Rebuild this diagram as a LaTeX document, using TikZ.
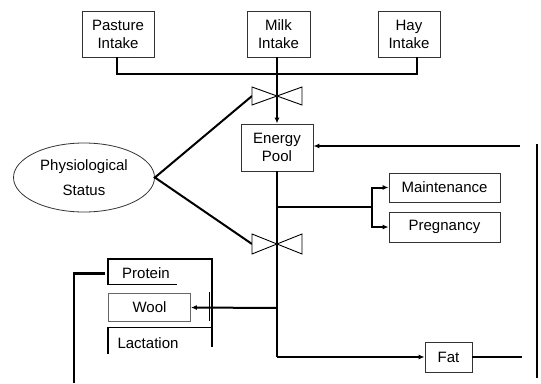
\documentclass[tikz,border=0pt]{standalone}
\usepackage{fontspec}
\setmainfont{Liberation Sans}
\usetikzlibrary{arrows.meta,shapes.geometric}
\begin{document}
\begin{tikzpicture}[x=1pt,y=-1pt,
  every node/.style={font=\fontsize{15}{18}\selectfont, inner sep=0pt},
  box/.style={draw=black!80, line width=0.8pt, align=center},
  conn/.style={line width=2pt},
  thin conn/.style={line width=1.4pt},
  tip/.style={-{Latex[length=6pt,width=5pt]}},
  valveshape/.style={draw, line width=0.9pt, fill=white}
]
\useasboundingbox (0,0) rectangle (541,383);

% boxes
\node[box, minimum width=72pt, minimum height=46pt] (pasture) at (118,34) {Pasture\\Intake};
\node[box, minimum width=63pt, minimum height=46pt] (milk) at (278.5,34) {Milk\\Intake};
\node[box, minimum width=62pt, minimum height=46pt] (hay) at (409,34) {Hay\\Intake};
\node[box, minimum width=72pt, minimum height=47pt] (energy) at (277,147.5) {Energy\\Pool};
\node[box, minimum width=111pt, minimum height=29pt] (maint) at (444.5,187.5) {Maintenance};
\node[box, minimum width=111pt, minimum height=30pt] (preg) at (444.5,227) {Pregnancy};
\node[box, minimum width=47pt, minimum height=30pt] (fat) at (448.5,357) {Fat};
\node[box, draw=black!60, minimum width=82pt, minimum height=28pt] (wool) at (149.5,307.5) {Wool};
\node[ellipse, draw=black!80, line width=0.8pt, minimum width=141pt, minimum height=69pt, align=center] (phys) at (84,177.5) {Physiological\\[7pt]Status};

% protein / lactation frame
\node (protein) at (146,273) {Protein};
\node (lact) at (148,343) {Lactation};
\draw[thin conn] (108,285) -- (108,259) -- (212,259) -- (212,347);
\draw[thin conn] (108,284.5) -- (177,284.5);
\draw[thin conn] (108,354) -- (108,327.5) -- (212,327.5);
\draw[thin conn] (209.5,292) -- (209.5,321);

% valves
\coordinate (v1) at (277,96);
\coordinate (v2) at (277,244);
\coordinate (v1w) at (252,96);
\coordinate (v2w) at (252,244);

% intake bus
\coordinate (busL) at (117,74);
\coordinate (busR) at (417,74);
\coordinate (busM) at (277,74);
\draw[conn] (pasture.south -| busL) -- (busL) -- (busR) -- (hay.south -| busR);
\draw[conn] (milk.south -| busM) -- (v1);
\draw[conn, tip] (v1) -- (energy.north -| v1);

% physiological status to valves
\draw[conn] (v1w) -- (phys.east) -- (v2w);

% main vertical
\coordinate (corner) at (277,357);
\draw[conn] (energy.south -| corner) -- (corner);
\draw[conn, tip] (corner) -- (fat.west);
\coordinate (fatend) at (522,357);
\draw[conn] (fat.east) -- (fatend);

% maintenance / pregnancy branch
\coordinate (br) at (372,207);
\draw[conn] (277,207) -- (br);
\draw[conn, tip] (br) |- (maint.west);
\draw[conn, tip] (br) |- (preg.west);

% wool
\coordinate (woolsrc) at (277,308);
\draw[conn, tip] (woolsrc) -- (wool.east);

% feedback into energy pool
\coordinate (fbstart) at (520,146);
\draw[conn, tip] (fbstart) -- (fbstart -| energy.east);
\coordinate (rtop) at (537,144);
\coordinate (rbot) at (537,378);
\draw[thin conn] (rtop) -- (rbot);

% left output
\coordinate (lout) at (105,273);
\coordinate (lcorner) at (73,273);
\coordinate (lbot) at (74,383);
\draw[line width=3pt] (lout) -- (lcorner);
\draw[thin conn] (74,273) -- (lbot);

% valve bowties
\draw[valveshape] (252,87) -- (302,105) -- (302,87) -- (252,105) -- cycle;
\draw[valveshape] (252,234) -- (302,254) -- (302,234) -- (252,254) -- cycle;
\end{tikzpicture}
\end{document}
